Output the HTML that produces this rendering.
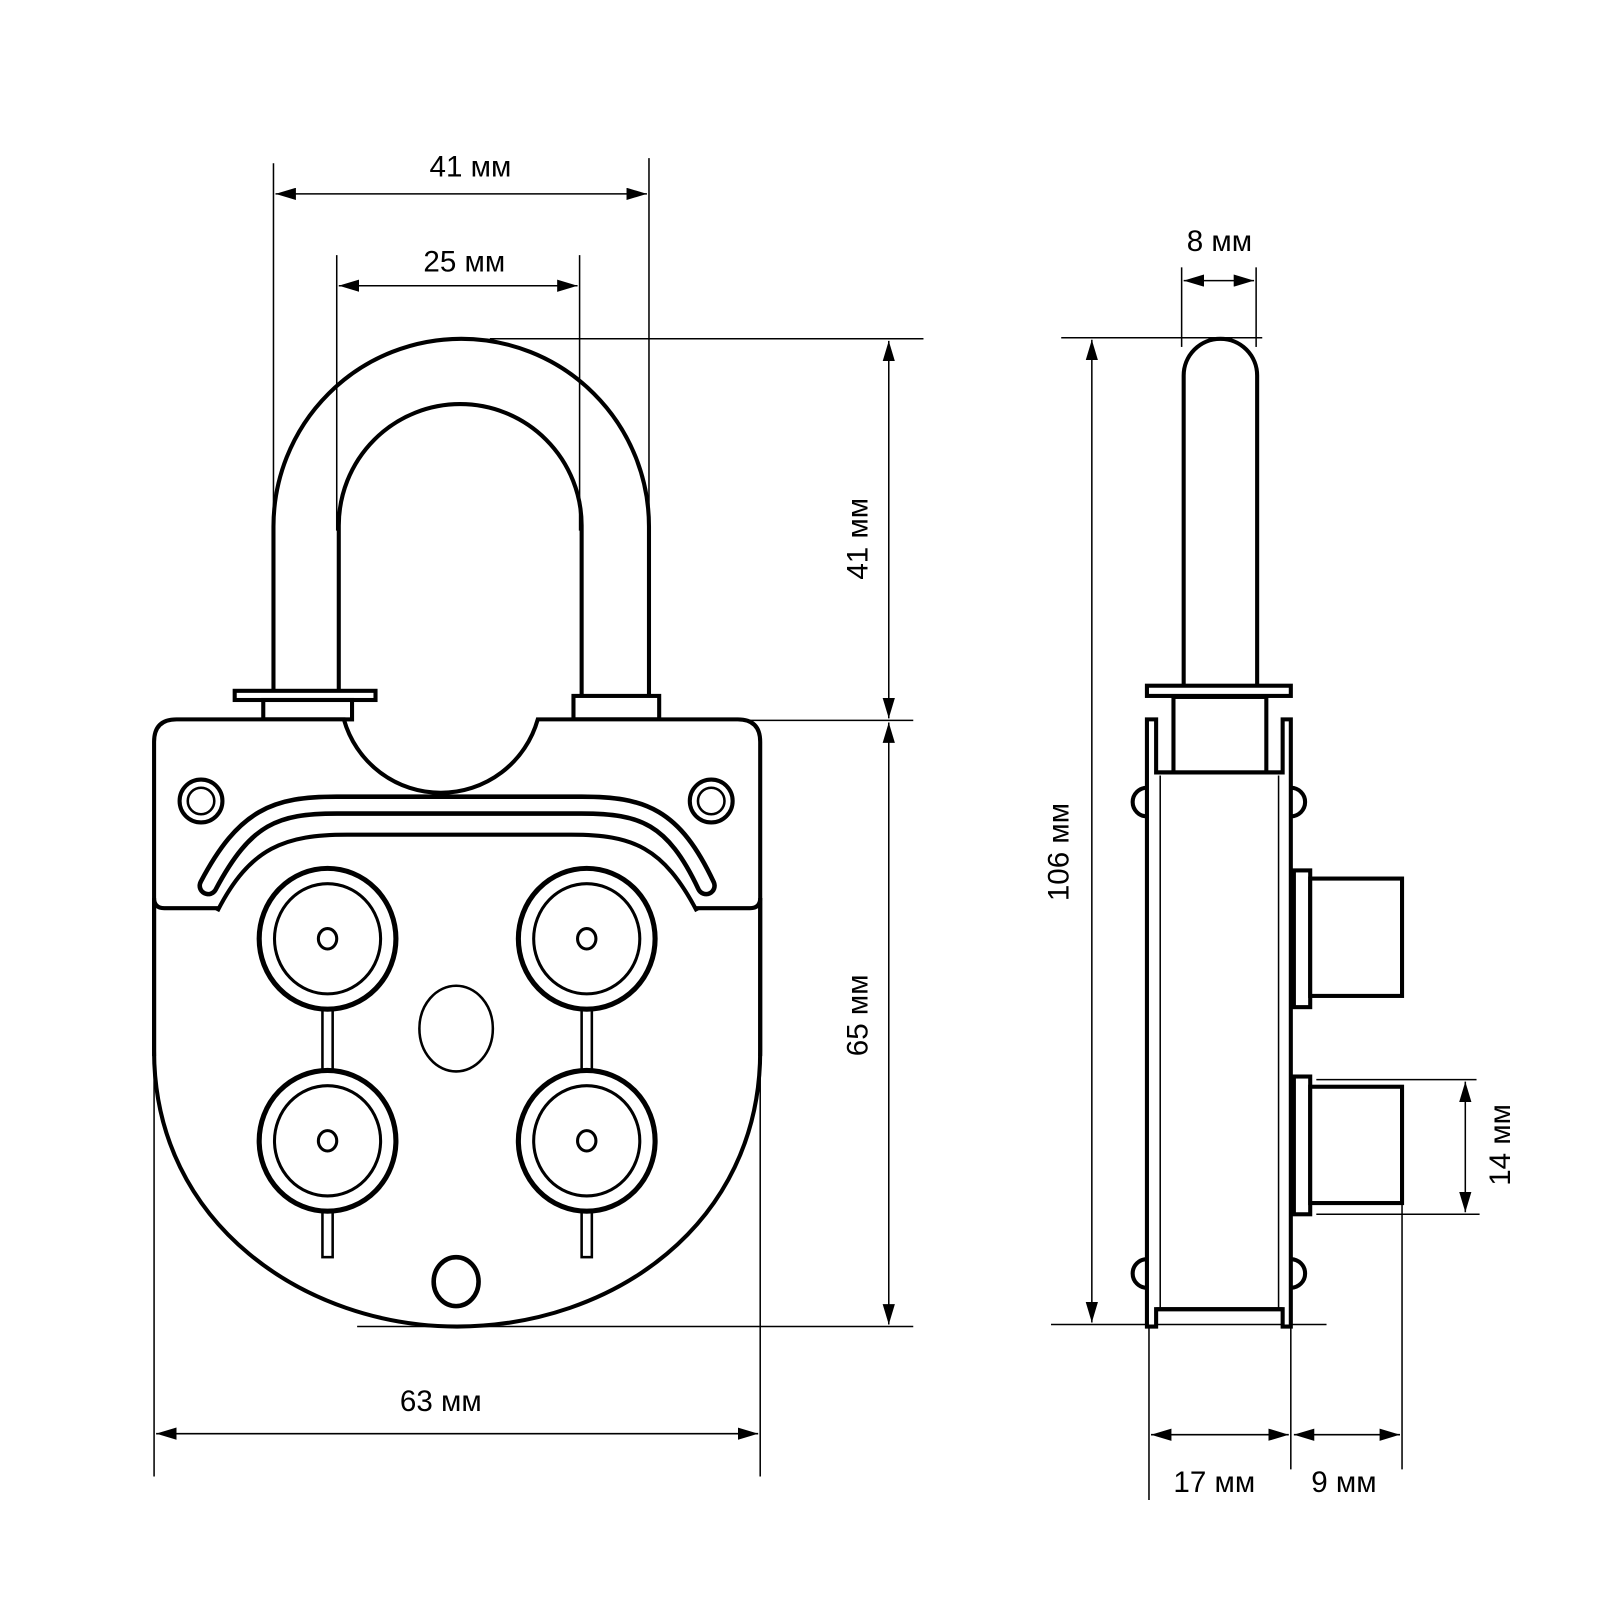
<!DOCTYPE html>
<html><head><meta charset="utf-8"><style>html,body{margin:0;padding:0;background:#fff}svg{display:block}</style></head>
<body>
<svg width="1600" height="1600" viewBox="0 0 1568 1568" xmlns="http://www.w3.org/2000/svg" font-family="Liberation Sans, sans-serif">
<defs>
<marker id="a" viewBox="0 0 20 12" refX="20" refY="6" markerWidth="20" markerHeight="12" markerUnits="userSpaceOnUse" orient="auto-start-reverse"><path d="M0,0 L20,6 L0,12 z" fill="#000"/></marker>
</defs>
<rect width="1568" height="1568" fill="#fff"/>
<g fill="none" stroke="#000" stroke-width="1.5">
<line x1="268" y1="160" x2="268" y2="500"/>
<line x1="636" y1="155" x2="636" y2="500"/>
<line x1="330" y1="250" x2="330" y2="520"/>
<line x1="568" y1="250" x2="568" y2="520"/>
<line x1="480" y1="332" x2="905" y2="332"/>
<line x1="720" y1="706" x2="895" y2="706"/>
<line x1="350" y1="1300" x2="895" y2="1300"/>
<line x1="151" y1="1040" x2="151" y2="1447"/>
<line x1="745" y1="1040" x2="745" y2="1447"/>
<line x1="1040" y1="331" x2="1237" y2="331"/>
<line x1="1030" y1="1298" x2="1300" y2="1298"/>
<line x1="1158" y1="262" x2="1158" y2="340"/>
<line x1="1231" y1="262" x2="1231" y2="340"/>
<line x1="1290" y1="1058" x2="1447" y2="1058"/>
<line x1="1290" y1="1190" x2="1450" y2="1190"/>
<line x1="1126" y1="1300" x2="1126" y2="1470"/>
<line x1="1265" y1="1300" x2="1265" y2="1440"/>
<line x1="1374" y1="1180" x2="1374" y2="1440"/>
<line x1="270" y1="190" x2="634" y2="190" marker-start="url(#a)" marker-end="url(#a)"/>
<line x1="332" y1="280" x2="566" y2="280" marker-start="url(#a)" marker-end="url(#a)"/>
<line x1="871" y1="334" x2="871" y2="704" marker-start="url(#a)" marker-end="url(#a)"/>
<line x1="871" y1="708" x2="871" y2="1298" marker-start="url(#a)" marker-end="url(#a)"/>
<line x1="153" y1="1405" x2="743" y2="1405" marker-start="url(#a)" marker-end="url(#a)"/>
<line x1="1070" y1="333" x2="1070" y2="1296" marker-start="url(#a)" marker-end="url(#a)"/>
<line x1="1160" y1="275" x2="1229" y2="275" marker-start="url(#a)" marker-end="url(#a)"/>
<line x1="1436" y1="1060" x2="1436" y2="1188" marker-start="url(#a)" marker-end="url(#a)"/>
<line x1="1128" y1="1406" x2="1263" y2="1406" marker-start="url(#a)" marker-end="url(#a)"/>
<line x1="1268" y1="1406" x2="1372" y2="1406" marker-start="url(#a)" marker-end="url(#a)"/>
</g>
<g font-size="29" fill="#000">
<text x="461" y="173" text-anchor="middle">41 мм</text>
<text x="455" y="266" text-anchor="middle">25 мм</text>
<text x="432" y="1383" text-anchor="middle">63 мм</text>
<text x="1195" y="246" text-anchor="middle">8 мм</text>
<text x="1190" y="1462" text-anchor="middle">17 мм</text>
<text x="1317" y="1462" text-anchor="middle">9 мм</text>
<text transform="translate(850,528) rotate(-90)" text-anchor="middle">41 мм</text>
<text transform="translate(850,995) rotate(-90)" text-anchor="middle">65 мм</text>
<text transform="translate(1047,835) rotate(-90)" text-anchor="middle">106 мм</text>
<text transform="translate(1480,1122) rotate(-90)" text-anchor="middle">14 мм</text>
</g>
<g font-size="36" fill="#000" text-anchor="middle">
<text x="220" y="984">1</text>
<text x="220" y="1064">2</text>
<text x="667" y="980">3</text>
<text x="667" y="1064">4</text>
</g>
<g fill="none" stroke="#000" stroke-width="4">
<path d="M268,677 L268,516 A184,184 0 0 1 636,516 L636,682"/>
<path d="M332,677 L332,515 A119,119 0 0 1 570,515 L570,682"/>
</g>
<g fill="#fff" stroke="#000" stroke-width="4">
<rect x="230" y="677" width="138" height="9"/>
<rect x="258" y="686" width="87" height="19"/>
<rect x="562" y="682" width="84" height="23"/>
<path d="M151,880 L151,1030 C151,1200 300,1300 448,1300 C600,1300 745,1200 745,1030 L745,880"/>
<path d="M173,705 L337,705 A98.7,98.7 0 0 0 527,705 L723,705 Q745,705 745,727 L745,880 Q745,890 735,890 L161,890 Q151,890 151,880 L151,727 Q151,705 173,705 Z"/>
<circle cx="197" cy="785" r="21"/>
<circle cx="697" cy="785" r="21"/>
</g>
<g fill="none" stroke="#000" stroke-width="2.5">
<circle cx="197" cy="785" r="13"/>
<circle cx="697" cy="785" r="13"/>
</g>
<path d="M204,868 C240,800 270,789 330,789 L570,789 C630,789 660,800 692,868" fill="none" stroke="#000" stroke-width="21" stroke-linecap="round"/>
<path d="M204,868 C240,800 270,789 330,789 L570,789 C630,789 660,800 692,868" fill="none" stroke="#fff" stroke-width="12" stroke-linecap="round"/>
<path d="M213,893 C245,830 280,818 340,818 L560,818 C620,818 650,830 683,893" fill="#fff" stroke="#000" stroke-width="4"/>
<line x1="151" y1="880" x2="151" y2="1035" stroke="#000" stroke-width="4"/>
<line x1="745" y1="880" x2="745" y2="1035" stroke="#000" stroke-width="4"/>
<g fill="#fff" stroke="#000">
<rect x="316" y="986" width="10" height="66" stroke-width="2.5"/>
<rect x="570" y="986" width="10" height="66" stroke-width="2.5"/>
<rect x="316" y="1184" width="10" height="48" stroke-width="2.5"/>
<rect x="570" y="1184" width="10" height="48" stroke-width="2.5"/>
<ellipse cx="321" cy="920" rx="67" ry="69" stroke-width="5"/>
<ellipse cx="575" cy="920" rx="67" ry="69" stroke-width="5"/>
<ellipse cx="321" cy="1118" rx="67" ry="69" stroke-width="5"/>
<ellipse cx="575" cy="1118" rx="67" ry="69" stroke-width="5"/>
<ellipse cx="321" cy="920" rx="52" ry="54" stroke-width="3"/>
<ellipse cx="575" cy="920" rx="52" ry="54" stroke-width="3"/>
<ellipse cx="321" cy="1118" rx="52" ry="54" stroke-width="3"/>
<ellipse cx="575" cy="1118" rx="52" ry="54" stroke-width="3"/>
<ellipse cx="321" cy="920" rx="9" ry="10" stroke-width="3"/>
<ellipse cx="575" cy="920" rx="9" ry="10" stroke-width="3"/>
<ellipse cx="321" cy="1118" rx="9" ry="10" stroke-width="3"/>
<ellipse cx="575" cy="1118" rx="9" ry="10" stroke-width="3"/>
<ellipse cx="447" cy="1008" rx="36" ry="42" stroke-width="2.5"/>
<ellipse cx="447" cy="1256" rx="22" ry="24" stroke-width="4.5"/>
</g>
<g fill="#fff" stroke="#000" stroke-width="4">
<path d="M1160,672 L1160,368 A36,36 0 0 1 1232,368 L1232,672"/>
<rect x="1124" y="672" width="141" height="10"/>
<rect x="1150" y="683" width="91" height="77"/>
<path d="M1124,772 A14,14 0 0 0 1124,800"/>
<path d="M1124,1234 A14,14 0 0 0 1124,1262"/>
<path d="M1265,772 A14,14 0 0 1 1265,800"/>
<path d="M1265,1234 A14,14 0 0 1 1265,1262"/>
<path d="M1124,1300 L1124,705 L1133,705 L1133,757 L1257,757 L1257,705 L1265,705 L1265,1300 L1257,1300 L1257,1283 L1133,1283 L1133,1300 Z"/>
<rect x="1133" y="759" width="124" height="522" stroke="none"/>
<rect x="1268" y="853" width="16" height="134"/>
<rect x="1284" y="861" width="90" height="115"/>
<rect x="1268" y="1055" width="16" height="135"/>
<rect x="1284" y="1065" width="90" height="114"/>
</g>
<line x1="1137" y1="760" x2="1137" y2="1282" stroke="#000" stroke-width="1.5"/>
<line x1="1253" y1="760" x2="1253" y2="1282" stroke="#000" stroke-width="1.5"/>
<line x1="1133" y1="757" x2="1257" y2="757" stroke="#000" stroke-width="4"/>
<line x1="1133" y1="1283" x2="1257" y2="1283" stroke="#000" stroke-width="4"/>
</svg>
</body></html>
